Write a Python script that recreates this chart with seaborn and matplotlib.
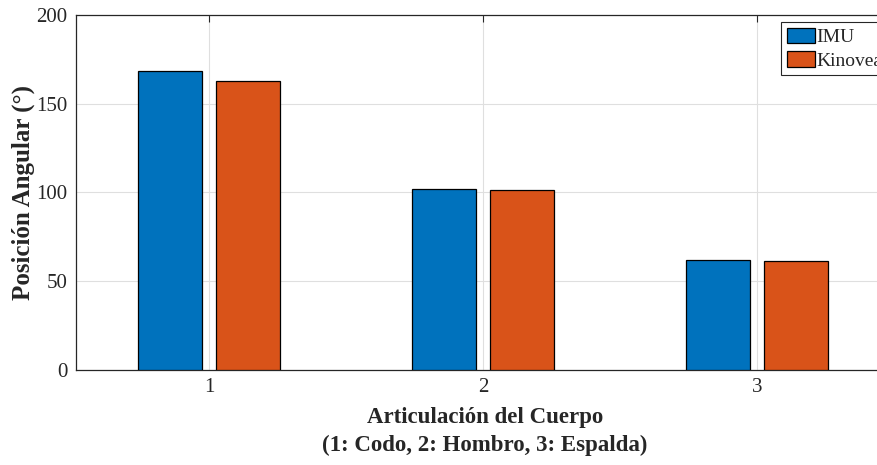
import matplotlib
matplotlib.use("Agg")
import matplotlib.pyplot as plt
import seaborn as sns
import pandas as pd

categories = ["1", "2", "3"]
imu = [168.5, 102.0, 62.0]
kinovea = [163.0, 101.0, 61.0]
series_names = ["IMU", "Kinovea"]
y_ticks = [0, 50, 100, 150, 200]

df = pd.DataFrame({
    "cat": categories * 2,
    "val": imu + kinovea,
    "serie": [series_names[0]] * 3 + [series_names[1]] * 3,
})

sns.set_theme(style="white")
plt.rcParams["font.family"] = ["Liberation Serif", "DejaVu Serif"]

W, H = 878, 465
fig = plt.figure(figsize=(W / 100, H / 100), dpi=100)
left, right, top, bottom = 76, 894, 15, 369.5
ax = fig.add_axes([left / W, (H - bottom) / H, (right - left) / W, (bottom - top) / H])

sns.barplot(data=df, x="cat", y="val", hue="serie", order=categories,
            hue_order=series_names, palette=["#0072BD", "#D95319"],
            width=0.572, gap=0.185, edgecolor="black", linewidth=0.9,
            ax=ax, zorder=3, saturation=1)

ax.set_xlim(-0.485, 2.5)
ax.set_ylim(0, 200)
ax.set_yticks(y_ticks)
ax.set_yticklabels([str(v) for v in y_ticks])
ax.grid(True, color="#dfdfdf", linewidth=0.8, zorder=0)
ax.set_axisbelow(True)

ax.tick_params(direction="in", length=5, width=0.8, colors="#262626",
               labelsize=15, top=True, right=True, pad=6)
for lab in ax.get_xticklabels() + ax.get_yticklabels():
    lab.set_color("#262626")
for s in ax.spines.values():
    s.set_color("#262626")
    s.set_linewidth(0.9)
    s.set_visible(True)

ax.set_xlabel("Articulación del Cuerpo\n(1: Codo, 2: Hombro, 3: Espalda)",
              fontsize=16.5, fontweight="bold", color="#262626", labelpad=7,
              linespacing=1.45)
ax.set_ylabel("Posición Angular (°)", fontsize=18, fontweight="bold",
              color="#262626", labelpad=1)

handles, labels = ax.get_legend_handles_labels()
leg = ax.legend(handles, labels, loc="upper left",
                bbox_to_anchor=(781 / W, 1 - 22 / H),
                bbox_transform=fig.transFigure, borderaxespad=0,
                fontsize=14, frameon=True, fancybox=False, framealpha=1,
                edgecolor="#262626", handlelength=1.45, handleheight=0.85,
                handletextpad=0.05, borderpad=0.3, labelspacing=0.25)
leg.get_frame().set_linewidth(0.8)

fig.savefig("out.png", dpi=100)
